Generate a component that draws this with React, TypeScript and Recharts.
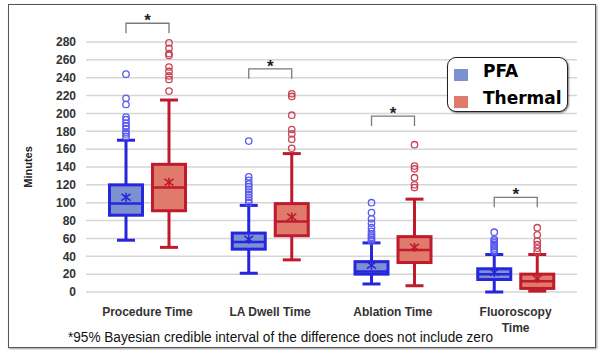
import React from 'react';
import { ComposedChart, Bar, XAxis, YAxis, CartesianGrid, Legend } from 'recharts';

// ---------- data ----------
const categories = ['Procedure Time', 'LA Dwell Time', 'Ablation Time', 'Fluoroscopy Time'];
const yTicks = [0, 20, 40, 60, 80, 100, 120, 140, 160, 180, 200, 220, 240, 260, 280];

const pfaMin = [58, 21, 9, 0];
const pfaQ1 = [86, 48, 20, 14];
const pfaMedian = [99, 56, 23, 20];
const pfaQ3 = [120, 66, 34, 26];
const pfaMax = [170, 97, 55, 42];
const pfaMean = [106, 59, 30, 22];
const pfaOutliers = [
  [174, 177, 179, 183, 186, 189, 193, 196, 210, 217, 244],
  [100, 103, 106, 109, 112, 115, 118, 121, 125, 129, 169],
  [57, 59, 61, 63, 65, 68, 72, 77, 82, 89, 100],
  [45, 47, 49, 51, 53, 55, 57, 59, 67],
];

const thermMin = [50, 36, 7, 1];
const thermQ1 = [91, 63, 33, 4];
const thermMedian = [117, 79, 47, 12];
const thermQ3 = [143, 99, 62, 20];
const thermMax = [215, 155, 104, 42];
const thermMean = [123, 84, 50, 15];
const thermOutliers = [
  [225, 238, 242, 247, 252, 265, 267, 273, 279],
  [161, 171, 177, 182, 198, 219, 222],
  [117, 120, 128, 138, 141, 165],
  [45, 49, 53, 57, 64, 72],
];

// top of the significance bracket (in minutes)
const sigBracketTop = [301, 250, 197, 106];

const footnote = '*95% Bayesian credible interval of the difference does not include zero';

// ---------- styles ----------
const FONT = 'Liberation Sans, Arial, sans-serif';
const BAR_SIZE = 36;
const BAR_GAP = 7;
const PFA_FILL = '#7b91d0';
const PFA_STROKE = '#2626dc';
const PFA_OUT = '#5a5af0';
const TH_FILL = '#e07b6b';
const TH_STROKE = '#c01a2e';
const TH_OUT = '#c84455';

const data = categories.map((name, i) => ({
  name,
  pfaMax: pfaMax[i],
  thermMax: thermMax[i],
  pfa: { min: pfaMin[i], q1: pfaQ1[i], med: pfaMedian[i], q3: pfaQ3[i], max: pfaMax[i], mean: pfaMean[i], out: pfaOutliers[i] },
  therm: { min: thermMin[i], q1: thermQ1[i], med: thermMedian[i], q3: thermQ3[i], max: thermMax[i], mean: thermMean[i], out: thermOutliers[i] },
  sig: sigBracketTop[i],
}));

function makeBoxShape(kind: 'pfa' | 'therm') {
  const stroke = kind === 'pfa' ? PFA_STROKE : TH_STROKE;
  const fill = kind === 'pfa' ? PFA_FILL : TH_FILL;
  const outC = kind === 'pfa' ? PFA_OUT : TH_OUT;
  return (props: any) => {
    const { x, y, width, height, payload } = props;
    const s = payload[kind];
    if (!height || !s) return <g />;
    const base = y + height;
    const k = height / s.max;
    const Y = (v: number) => base - v * k;
    const cx = x + width / 2;
    const capW = 18;
    const sw = 3;
    const my = Y(s.mean);
    const r = 4.5;
    const elems: any[] = [];
    elems.push(<line key="wl" x1={cx} x2={cx} y1={Y(s.min)} y2={Y(s.q1)} stroke={stroke} strokeWidth={sw} />);
    elems.push(<line key="wh" x1={cx} x2={cx} y1={Y(s.q3)} y2={Y(s.max)} stroke={stroke} strokeWidth={sw} />);
    elems.push(<line key="cl" x1={cx - capW / 2} x2={cx + capW / 2} y1={Y(s.min)} y2={Y(s.min)} stroke={stroke} strokeWidth={sw} />);
    elems.push(<line key="ch" x1={cx - capW / 2} x2={cx + capW / 2} y1={Y(s.max)} y2={Y(s.max)} stroke={stroke} strokeWidth={sw} />);
    elems.push(
      <rect key="box" x={x + sw / 2} y={Y(s.q3)} width={width - sw} height={Y(s.q1) - Y(s.q3)} fill={fill} stroke={stroke} strokeWidth={sw} />
    );
    elems.push(<line key="med" x1={x + sw / 2} x2={x + width - sw / 2} y1={Y(s.med)} y2={Y(s.med)} stroke={stroke} strokeWidth={2.5} />);
    elems.push(
      <g key="mean" stroke={stroke} strokeWidth={1.6}>
        <line x1={cx} x2={cx} y1={my - r} y2={my + r} />
        <line x1={cx - r} x2={cx + r} y1={my - r * 0.75} y2={my + r * 0.75} />
        <line x1={cx - r} x2={cx + r} y1={my + r * 0.75} y2={my - r * 0.75} />
      </g>
    );
    s.out.forEach((v: number, j: number) => {
      elems.push(<circle key={'o' + j} cx={cx} cy={Y(v)} r={3.2} fill="none" stroke={outC} strokeWidth={1.3} />);
    });
    if (kind === 'therm') {
      const leftX = cx - (BAR_SIZE + BAR_GAP);
      const top = Y(payload.sig);
      const legs = 10;
      elems.push(
        <path key="br" d={`M${leftX},${top + legs} L${leftX},${top} L${cx},${top} L${cx},${top + legs}`} fill="none" stroke="#7a7a7a" strokeWidth={1.3} />
      );
      elems.push(
        <text key="st" x={(leftX + cx) / 2} y={top + 3} textAnchor="middle" fontSize={17} fontWeight="bold" fontFamily={FONT} fill="#222">
          *
        </text>
      );
    }
    return <g>{elems}</g>;
  };
}

// wrap long category names onto two lines
function wrapLabel(s: string): string[] {
  if (s.length <= 15) return [s];
  const idx = s.lastIndexOf(' ');
  return idx > 0 ? [s.slice(0, idx), s.slice(idx + 1)] : [s];
}

const CatTick = (props: any) => {
  const { x, y, payload } = props;
  const lines = wrapLabel(String(payload.value));
  return (
    <text x={x} y={y + 9} textAnchor="middle" fontSize={12} fontWeight="bold" fontFamily={FONT} fill="#333">
      {lines.map((l, i) => (
        <tspan key={i} x={x} dy={i === 0 ? 0 : 16}>
          {l}
        </tspan>
      ))}
    </text>
  );
};

const renderLegend = (props: any) => {
  const { payload } = props;
  return (
    <div
      style={{
        width: 121,
        height: 55,
        boxSizing: 'border-box',
        border: '1.5px solid #222',
        borderRadius: 9,
        background: '#fff',
        boxShadow: '1px 1px 2px rgba(0,0,0,0.5)',
        position: 'relative',
        fontFamily: 'DejaVu Sans, sans-serif',
        fontWeight: 'bold',
        fontSize: 17,
        color: '#000',
      }}
    >
      {(payload || []).map((e: any, i: number) => (
        <React.Fragment key={i}>
          <div style={{ position: 'absolute', left: 6, top: 11 + i * 27, width: 14, height: 12, background: e.color }} />
          <div style={{ position: 'absolute', left: 35, top: 5 + i * 27, lineHeight: '17px', whiteSpace: 'nowrap' }}>{e.value}</div>
        </React.Fragment>
      ))}
    </div>
  );
};

export default function App() {
  return (
    <div style={{ position: 'absolute', left: 0, top: 0, width: 600, height: 350, background: '#fff', overflow: 'hidden' }}>
      <div
        style={{
          position: 'absolute',
          left: 8,
          top: 4,
          width: 588,
          height: 344,
          border: '1.5px solid #555',
          boxSizing: 'border-box',
          boxShadow: '1px 1px 2px #999',
        }}
      />
      <div style={{ position: 'absolute', left: 0, top: 0 }}>
        <ComposedChart
          width={600}
          height={350}
          data={data}
          margin={{ top: 42, right: 23, bottom: 28, left: 0 }}
          barSize={BAR_SIZE}
          barGap={BAR_GAP}
        >
          <CartesianGrid vertical={false} stroke="#d6d6d6" strokeWidth={1.5} />
          <XAxis dataKey="name" height={30} axisLine={false} tickLine={false} tickSize={0} tickMargin={15} tick={<CatTick />} interval={0} />
          <YAxis
            width={86}
            domain={[0, 280]}
            ticks={yTicks}
            interval={0}
            axisLine={false}
            tickLine={false}
            tickSize={0}
            tickMargin={10}
            tick={{ fontSize: 12, fontWeight: 'bold', fill: '#333', fontFamily: FONT }}
            label={{
              value: 'Minutes',
              angle: -90,
              position: 'insideLeft',
              offset: 28,
              style: { textAnchor: 'middle', fontSize: 11, fontWeight: 'bold', fill: '#222', fontFamily: FONT },
            }}
          />
          <Legend
            content={renderLegend}
            layout="horizontal"
            verticalAlign="middle"
            align="center"
            wrapperStyle={{ position: 'absolute', left: 447, top: 57, width: 121, height: 55 }}
          />
          <Bar dataKey="pfaMax" name="PFA" fill={PFA_FILL} isAnimationActive={false} shape={makeBoxShape('pfa')} />
          <Bar dataKey="thermMax" name="Thermal" fill={TH_FILL} isAnimationActive={false} shape={makeBoxShape('therm')} />
        </ComposedChart>
      </div>
      <svg width={600} height={350} style={{ position: 'absolute', left: 0, top: 0, pointerEvents: 'none' }}>
        <text x={68} y={342} fontSize={14} fontFamily={FONT} fill="#111" textLength={425} lengthAdjust="spacingAndGlyphs">
          {footnote}
        </text>
      </svg>
    </div>
  );
}
